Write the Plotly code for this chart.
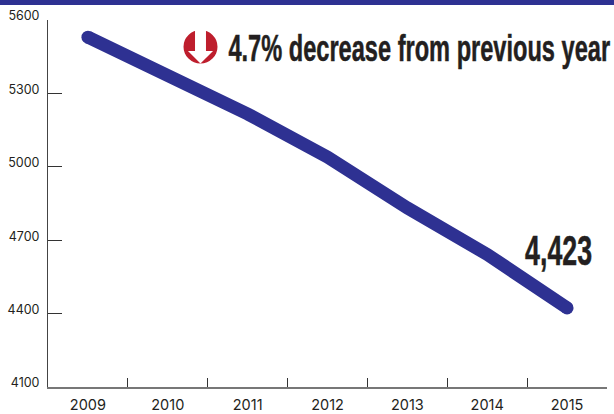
import plotly.graph_objects as go

years = ["2009", "2010", "2011", "2012", "2013", "2014", "2015"]
cases = [5530, 5375, 5216, 5040, 4832, 4642, 4423]
y_ticks = [4100, 4400, 4700, 5000, 5300, 5600]
headline = "4.7% decrease from previous year"
end_label = "4,423"

W, H = 614, 414
L, R, T, B = 48, 7, 20, 27
BLUE = "#2e3192"
RED = "#be1e2d"
INK = "#231f20"


def px(x):
    return (x - L) / (W - L - R)


def py(y):
    return 1 - (y - T) / (H - T - B)


def poly_path(points):
    return "M" + " L".join(f"{px(a):.4f},{py(b):.4f}" for a, b in points) + " Z"


fig = go.Figure()
fig.add_trace(go.Scatter(
    x=years, y=cases, mode="lines+markers",
    line=dict(color=BLUE, width=13),
    marker=dict(color=BLUE, opacity=1, size=[13, 0, 0, 0, 0, 0, 13], line=dict(width=0)),
    cliponaxis=False, hoverinfo="skip", showlegend=False,
))

# Header band, and the down-arrow badge beside the headline
fig.add_shape(type="rect", xref="paper", yref="paper", x0=px(0), x1=px(W), y0=py(0), y1=py(5),
              fillcolor=BLUE, line_width=0, layer="above")
fig.add_shape(type="circle", xref="paper", yref="paper", x0=px(183.5), x1=px(217.5), y0=py(30), y1=py(63.5),
              fillcolor=RED, line_width=0)
fig.add_shape(type="path", xref="paper", yref="paper", fillcolor="white", line_width=0,
              path=poly_path([(195, 29), (206, 29), (206, 51), (213, 51), (200.5, 63.5), (188, 51), (195, 51)]))

fig.add_annotation(text=headline, xref="paper", yref="paper", x=px(419), y=py(48),
                   xanchor="center", yanchor="middle", showarrow=False,
                   font=dict(family="Liberation Sans", size=37, weight="bold", color=INK))
fig.add_annotation(text=end_label, xref="paper", yref="paper", x=px(558), y=py(250),
                   xanchor="center", yanchor="middle", showarrow=False,
                   font=dict(family="Liberation Sans", size=42, weight="bold", color=INK))

fig.update_layout(
    width=W, height=H, margin=dict(l=L, r=R, t=T, b=B),
    paper_bgcolor="white", plot_bgcolor="white", showlegend=False,
)
fig.update_xaxes(
    type="category", range=[-0.5, 6.5], automargin=False, tickson="boundaries", ticks="inside", ticklen=9,
    tickwidth=1, tickcolor="#333333", showline=True, linecolor="#777777", linewidth=1.5, showgrid=False,
    zeroline=False, ticklabelstandoff=4, tickfont=dict(family="Inter", size=14.5, color=INK),
)
fig.update_yaxes(
    range=[4100, 5600], automargin=False, tickvals=y_ticks, ticktext=[str(v) for v in y_ticks],
    ticks="inside", ticklen=14, tickwidth=1, tickcolor="#333333",
    showline=True, linecolor="#444444", linewidth=1, showgrid=False, zeroline=False,
    ticklabelstandoff=5, ticklabelshift=-4, tickfont=dict(family="Inter", size=12.5, color=INK),
)

# Squeeze the two bold call-outs horizontally about their centres
condense = """
var widths = [382, 67];
document.querySelectorAll('.annotation-text').forEach(function (t, i) {
    var box = t.getBBox();
    var cx = box.x + box.width / 2;
    var s = widths[i] / box.width;
    t.setAttribute('transform', 'translate(' + cx + ',0) scale(' + s + ',1) translate(' + (-cx) + ',0)');
    t.style.stroke = '#231f20';
    t.style.strokeWidth = '0.5px';
});
"""
fig.write_html("out.html", config=dict(displayModeBar=False), post_script=condense)
